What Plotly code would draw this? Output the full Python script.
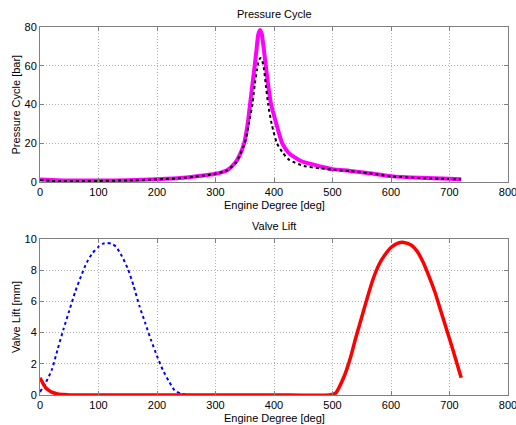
import plotly.graph_objects as go

# pressure cycle (bar) vs crank angle (deg)
p_deg = [0, 20, 40, 60, 80, 100, 150, 200, 250, 280, 300, 310, 320, 334, 340, 349, 355, 359, 363,
         367, 370, 373, 376, 379, 382, 386, 390, 395, 404, 414, 425, 446, 480, 500, 530, 560, 600, 650, 700, 720]
p_fired = [1.3, 1.0, 0.8, 0.7, 0.7, 0.7, 0.9, 1.4, 2.3, 3.3, 4.2, 4.9, 6.0, 10, 13, 20, 30, 40, 50,
           60, 68, 76, 78.5, 76.5, 70, 60, 50, 40, 30, 20, 15, 10.8, 8.0, 6.6, 5.7, 4.6, 3.0, 2.1, 1.6, 1.4]
m_deg = [0, 20, 40, 60, 80, 100, 150, 200, 250, 300, 320, 335, 350, 357, 363, 367, 371, 374, 377, 380,
         383, 386, 390, 396, 405, 415, 426, 451, 480, 500, 530, 560, 600, 650, 700, 720]
p_motored = [1.0, 0.5, 0.3, 0.3, 0.3, 0.5, 0.8, 1.3, 2.2, 4.2, 6.0, 10, 20, 30, 40, 50, 58, 62.5, 64, 62.5,
             58, 50, 40, 30, 20, 15, 11.4, 8.2, 7.0, 6.3, 5.6, 4.6, 2.9, 2.0, 1.5, 1.3]

# valve lift (mm)
in_deg = [0, 10, 20, 30, 40, 50, 60, 70, 80, 90, 100, 108, 115, 122, 130, 140, 150, 160, 170, 180, 190,
          200, 210, 220, 230, 240, 250, 260]
in_lift = [0.2, 0.8, 1.6, 2.9, 4.2, 5.4, 6.6, 7.6, 8.5, 9.1, 9.5, 9.7, 9.75, 9.7, 9.5, 8.9, 8.1, 7.0, 5.7,
           4.6, 3.5, 2.5, 1.6, 0.9, 0.3, 0.1, 0.03, 0.0]
ex_deg = [0, 5, 10, 15, 20, 30, 40, 50, 100, 200, 300, 400, 495, 505, 520, 530, 540, 550, 560, 570,
          580, 590, 600, 610, 622, 635, 645, 655, 665, 675, 685, 695, 705, 720]
ex_lift = [1.1, 0.75, 0.45, 0.3, 0.18, 0.07, 0.03, 0.0, 0.0, 0.0, 0.0, 0.0, 0.0, 0.1, 1.2, 2.3,
           3.7, 5.0, 6.3, 7.5, 8.4, 9.0, 9.45, 9.7, 9.78, 9.6, 9.2, 8.5, 7.6, 6.6, 5.4, 4.2, 3.0, 1.1]

fig = go.Figure()
fig.add_trace(go.Scatter(x=p_deg, y=p_fired, mode="lines", line=dict(color="#ff00ff", width=4, shape="spline", smoothing=0.6),
                         xaxis="x", yaxis="y"))
fig.add_trace(go.Scatter(x=m_deg, y=p_motored, mode="lines", line=dict(color="black", width=2, dash="dot", shape="spline", smoothing=0.6),
                         xaxis="x", yaxis="y"))
fig.add_trace(go.Scatter(x=in_deg, y=in_lift, mode="lines", line=dict(color="#0000ff", width=2, dash="dot", shape="spline", smoothing=0.6),
                         xaxis="x2", yaxis="y2"))
fig.add_trace(go.Scatter(x=ex_deg, y=ex_lift, mode="lines", line=dict(color="#ff0000", width=3.5, shape="spline", smoothing=0.6),
                         xaxis="x2", yaxis="y2"))

ax = dict(showline=True, linecolor="#808080", linewidth=1, mirror="ticks", ticks="inside", ticklen=4,
          tickcolor="#808080", showgrid=True, gridcolor="#b0b0b0", griddash="1px,2px", gridwidth=1,
          zeroline=False, tickfont=dict(size=11, color="black"), automargin=False)

fig.update_layout(
    width=516, height=425,
    margin=dict(l=40, r=8, t=27, b=30),
    paper_bgcolor="white", plot_bgcolor="white",
    showlegend=False,
    font=dict(family="Liberation Sans, Arial, sans-serif", size=11, color="black"),
    xaxis=dict(ax, range=[0, 800], dtick=100, domain=[0, 1], anchor="y", ticklabeloverflow="allow"),
    yaxis=dict(ax, range=[0, 80], dtick=20, domain=[0.579, 1], anchor="x"),
    xaxis2=dict(ax, range=[0, 800], dtick=100, domain=[0, 1], anchor="y2", ticklabeloverflow="allow"),
    yaxis2=dict(ax, range=[0, 10], dtick=2, domain=[0, 0.424], anchor="x2"),
)

for xr, yr, title, xlab, ylab in [("x", "y", "Pressure Cycle", "Engine Degree [deg]", "Pressure Cycle [bar]"),
                                  ("x2", "y2", "Valve Lift", "Engine Degree [deg]", "Valve Lift [mm]")]:
    fig.add_annotation(text=title, xref=xr + " domain", yref=yr + " domain", x=0.5, y=1,
                       xanchor="center", yanchor="bottom", yshift=5, showarrow=False, font=dict(size=11))
    fig.add_annotation(text=xlab, xref=xr + " domain", yref=yr + " domain", x=0.5, y=0,
                       xanchor="center", yanchor="top", yshift=-15, showarrow=False, font=dict(size=11))
    fig.add_annotation(text=ylab, xref=xr + " domain", yref=yr + " domain", x=0, y=0.5, textangle=-90,
                       xanchor="center", yanchor="middle", xshift=-24, showarrow=False, font=dict(size=11))

# page body has a default 8px margin; drop it so the figure sits at the window corner
fig.write_html("out.html", config={"displayModeBar": False},
               post_script="document.body.style.margin='0';")
